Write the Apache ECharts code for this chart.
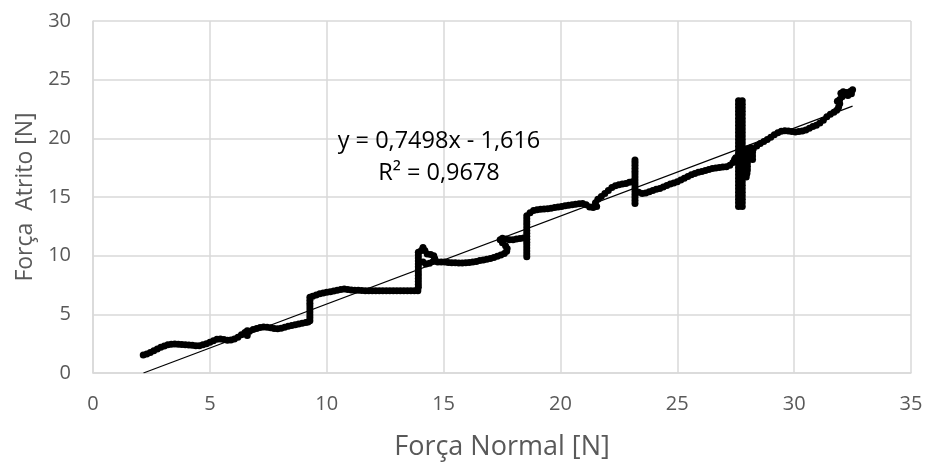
<!DOCTYPE html>
<html>
<head>
<meta charset="utf-8">
<script src="https://cdn.jsdelivr.net/npm/echarts@6/dist/echarts.min.js"></script>
<style>html,body{margin:0;padding:0;background:#fff}#c{width:928px;height:466px}</style>
</head>
<body>
<div id="c"></div>
<script>
// Measured points: Força Normal [N] (x) and Força Atrito [N] (y)
var normalForce = [
2.15,2.3,2.45,2.6,2.75,2.9,3.05,3.2,3.35,3.5,3.65,3.8,3.95,4.1,4.25,4.4,4.55,4.7,4.85,5.0,5.15,5.3,5.45,5.6,5.75,5.9,6.05,6.2,6.35,6.5,6.6,6.6,6.7,6.85,7.0,7.15,7.3,7.45,7.6,7.75,7.9,8.05,8.2,8.35,8.5,8.65,8.8,8.95,9.1,9.2,
9.28,9.28,9.28,9.28,9.28,9.28,9.28,9.28,9.28,
9.4,9.55,9.7,9.85,10.0,10.15,10.3,10.45,10.6,10.75,10.9,11.05,11.2,11.35,11.5,11.65,11.8,11.95,12.1,12.25,12.4,12.55,12.7,12.85,13.0,13.15,13.3,13.45,13.6,13.75,13.9,
13.92,13.92,13.92,13.92,13.92,13.92,13.92,13.92,13.92,13.92,13.92,13.92,13.92,
14.05,14.12,14.2,
14.3,14.45,14.58,14.62,14.55,14.4,14.25,14.12,
14.75,14.9,15.05,15.2,15.35,15.5,15.65,15.8,15.95,16.1,16.25,16.4,16.55,16.7,16.85,17.0,17.15,17.3,17.45,17.6,17.7,17.72,17.65,17.52,17.42,17.52,17.67,17.82,17.97,18.12,18.27,18.42,
18.56,18.56,18.56,18.56,18.56,18.56,18.56,18.56,18.56,18.56,18.56,18.56,18.56,18.56,18.56,
18.7,18.85,19.0,19.15,19.3,19.45,19.6,19.75,19.9,20.05,20.2,20.35,20.5,20.65,20.8,20.95,21.1,21.25,21.4,21.55,21.5,21.6,21.75,21.9,22.05,22.2,22.35,22.5,22.65,22.8,22.95,23.08,
23.19,23.19,23.19,23.19,23.19,23.19,23.19,23.19,23.19,23.19,23.19,23.19,23.19,23.19,23.19,23.19,
23.35,23.5,23.65,23.8,23.95,24.1,24.25,24.4,24.55,24.7,24.85,25.0,25.15,25.3,25.45,25.6,25.75,25.9,26.05,26.2,26.35,26.5,26.65,26.8,26.95,27.1,27.25,27.38,27.45,27.5,
27.62,27.62,27.62,27.62,27.62,27.62,27.62,27.62,27.62,27.62,27.62,27.62,27.62,27.62,27.62,27.62,27.62,27.62,27.62,27.62,27.62,27.62,27.62,27.62,27.62,27.62,27.62,27.62,27.62,27.62,27.62,
27.78,27.78,27.78,27.78,27.78,27.78,27.78,27.78,27.78,27.78,27.78,27.78,27.78,27.78,27.78,27.78,27.78,27.78,27.78,27.78,27.78,27.78,27.78,27.78,27.78,27.78,27.78,27.78,27.78,27.78,27.78,
27.95,27.98,28.0,28.0,28.0,28.0,27.98,27.97,27.97,
28.15,28.22,28.22,28.22,28.25,
28.4,28.55,28.7,28.85,29.0,29.15,29.3,29.45,29.6,29.75,29.9,30.05,30.2,30.35,30.5,30.65,30.8,30.95,31.1,31.25,31.4,31.55,31.7,31.82,31.9,31.95,31.85,31.95,32.05,32.0,32.1,32.25,32.4,32.5,32.45,32.3
];
var frictionForce = [
1.53,1.62,1.75,1.9,2.05,2.2,2.3,2.4,2.45,2.47,2.45,2.42,2.4,2.38,2.36,2.33,2.32,2.4,2.5,2.62,2.75,2.88,2.9,2.85,2.8,2.82,2.9,3.05,3.25,3.45,3.6,3.2,3.55,3.7,3.8,3.88,3.92,3.9,3.85,3.8,3.78,3.82,3.9,3.98,4.05,4.12,4.18,4.25,4.3,4.35,
4.45,4.7,4.95,5.2,5.45,5.7,5.95,6.2,6.45,
6.55,6.65,6.75,6.82,6.88,6.92,6.98,7.05,7.12,7.15,7.12,7.08,7.05,7.05,7.03,7.02,7.0,7.0,7.0,7.0,7.0,7.0,7.0,7.0,7.0,7.0,7.0,7.0,7.0,7.0,7.02,
7.3,7.55,7.8,8.05,8.3,8.55,8.8,9.05,9.3,9.55,9.8,10.05,10.3,
10.45,10.7,10.45,
10.15,10.1,10.0,9.75,9.5,9.35,9.3,9.45,
9.45,9.47,9.45,9.42,9.4,9.4,9.38,9.38,9.4,9.42,9.45,9.5,9.58,9.63,9.7,9.76,9.85,9.95,10.05,10.18,10.38,10.62,10.85,11.1,11.35,11.48,11.42,11.35,11.36,11.42,11.47,11.5,
9.9,10.15,10.4,10.65,10.9,11.15,11.4,11.65,11.9,12.15,12.4,12.65,12.9,13.15,13.4,
13.65,13.85,13.92,13.95,13.98,14.0,14.05,14.1,14.15,14.2,14.25,14.3,14.35,14.38,14.42,14.45,14.35,14.15,14.1,14.2,14.5,14.8,15.05,15.3,15.55,15.8,15.95,16.05,16.1,16.15,16.25,16.3,
14.45,14.7,14.95,15.2,15.45,15.7,15.95,16.2,16.45,16.7,16.95,17.2,17.45,17.7,17.95,18.15,
15.4,15.3,15.35,15.45,15.55,15.65,15.73,15.85,15.98,16.1,16.2,16.3,16.45,16.6,16.75,16.9,17.0,17.1,17.18,17.25,17.35,17.42,17.48,17.52,17.55,17.58,17.7,17.95,18.2,18.35,
14.2,14.5,14.8,15.1,15.4,15.7,16.0,16.3,16.6,16.9,17.2,17.5,17.8,18.1,18.4,18.7,19.0,19.3,19.6,19.9,20.2,20.5,20.8,21.1,21.4,21.7,22.0,22.3,22.6,22.9,23.2,
14.2,14.5,14.8,15.1,15.4,15.7,16.0,16.3,16.6,16.9,17.2,17.5,17.8,18.1,18.4,18.7,19.0,19.3,19.6,19.9,20.2,20.5,20.8,21.1,21.4,21.7,22.0,22.3,22.6,22.9,23.2,
16.7,17.0,17.3,17.6,17.9,18.2,18.5,18.8,19.1,
19.2,18.2,18.5,18.8,19.1,
19.35,19.55,19.72,19.9,20.1,20.3,20.48,20.6,20.65,20.62,20.58,20.55,20.58,20.62,20.72,20.85,21.0,21.12,21.3,21.55,21.85,22.05,22.22,22.4,22.65,22.95,23.15,23.3,23.55,23.85,23.98,23.9,24.0,24.15,23.8,23.65
];
// Linear trendline endpoints as drawn (y = 0,7498x - 1,616)
var trendX = [2.16, 32.5];
var trendY = [0.0, 22.75];
var equationText = "y = 0,7498x - 1,616";
var r2Text = "R² = 0,9678";

var points = normalForce.map(function (x, i) { return [x, frictionForce[i]]; });
var trend = trendX.map(function (x, i) { return [x, trendY[i]]; });

var FONT = "Open Sans";
var chart = echarts.init(document.getElementById('c'), null, { renderer: 'canvas' });
chart.setOption({
  animation: false,
  backgroundColor: '#ffffff',
  textStyle: { fontFamily: FONT },
  grid: { left: 93, right: 17, top: 21, bottom: 93 },
  xAxis: {
    type: 'value', min: 0, max: 35, interval: 5,
    name: 'Força Normal [N]', nameLocation: 'middle', nameGap: 61,
    nameTextStyle: { fontFamily: FONT, fontSize: 27, color: '#595959' },
    axisLine: { show: true, lineStyle: { color: '#d9d9d9', width: 1.5 } },
    axisTick: { show: false },
    axisLabel: { fontFamily: FONT, fontSize: 20, color: '#595959', margin: 21 },
    splitLine: { show: true, lineStyle: { color: '#d9d9d9', width: 1.5 } }
  },
  yAxis: {
    type: 'value', min: 0, max: 30, interval: 5,
    name: 'Força  Atrito [N]', nameLocation: 'middle', nameGap: 55, nameRotate: 90,
    nameTextStyle: { fontFamily: FONT, fontSize: 23, color: '#595959' },
    axisLine: { show: true, lineStyle: { color: '#d9d9d9', width: 1.5 } },
    axisTick: { show: false },
    axisLabel: { fontFamily: FONT, fontSize: 20, color: '#595959', margin: 22 },
    splitLine: { show: true, lineStyle: { color: '#d9d9d9', width: 1.5 } }
  },
  series: [
    {
      type: 'scatter', data: points, symbol: 'circle', symbolSize: 7,
      itemStyle: { color: '#000000', opacity: 1 }, z: 3
    },
    {
      type: 'line', data: trend, showSymbol: false, symbol: 'none',
      lineStyle: { color: '#000000', width: 1.2 }, z: 4
    }
  ],
  graphic: [
    { type: 'text', x: 439, y: 141, z: 100, style: { text: equationText, fontFamily: FONT, fontSize: 23.5, fill: '#000000', align: 'center', verticalAlign: 'middle' } },
    { type: 'text', x: 439, y: 173, z: 100, style: { text: r2Text, fontFamily: FONT, fontSize: 23.5, fill: '#000000', align: 'center', verticalAlign: 'middle' } }
  ]
});
</script>
</body>
</html>
